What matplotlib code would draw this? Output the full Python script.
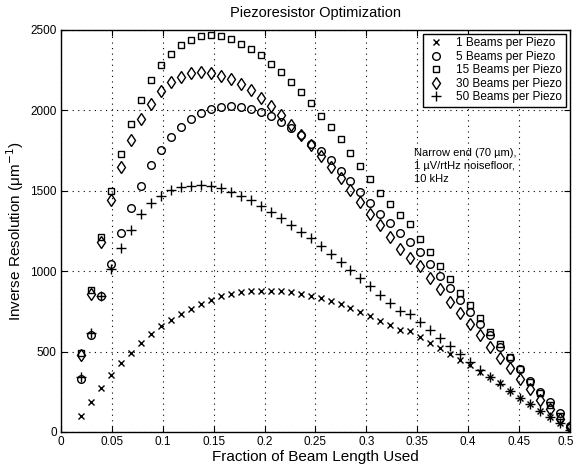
import numpy as np
import matplotlib
matplotlib.use("Agg")
import matplotlib.pyplot as plt
from matplotlib.transforms import ScaledTranslation

plt.rcParams['font.family'] = ['Liberation Sans', 'DejaVu Sans']

# Fraction of beam length used (50 samples from 0.02 to 0.5)
fraction = np.linspace(0.02, 0.5, 50)

beams_1 = [100, 189, 276, 353, 428, 494, 554, 608, 656, 697, 735, 766, 797, 822, 843, 855,
           868, 874, 876, 877, 874, 870, 860, 847, 830, 814, 793, 770, 747, 718, 691, 662,
           631, 629, 590, 556, 521, 486, 448, 415, 375, 341, 303, 257, 214, 174, 133, 92, 54, 15]
beams_5 = [330, 604, 847, 1046, 1240, 1395, 1528, 1658, 1750, 1833, 1897, 1947, 1980, 2007,
           2020, 2024, 2019, 2008, 1988, 1963, 1926, 1889, 1845, 1792, 1745, 1688, 1625, 1561,
           1493, 1424, 1357, 1300, 1240, 1180, 1117, 1044, 967, 895, 818, 745, 672, 600, 530,
           460, 390, 320, 250, 185, 120, 40]
beams_15 = [490, 885, 1212, 1501, 1725, 1912, 2063, 2186, 2281, 2352, 2405, 2439, 2460, 2466,
            2460, 2441, 2414, 2381, 2341, 2290, 2236, 2175, 2113, 2047, 1966, 1896, 1820, 1737,
            1654, 1574, 1486, 1420, 1350, 1290, 1202, 1119, 1034, 953, 867, 787, 706, 623, 544,
            469, 390, 313, 241, 168, 100, 33]
beams_30 = [480, 860, 1180, 1440, 1648, 1814, 1943, 2041, 2119, 2175, 2208, 2233, 2238, 2233,
            2215, 2192, 2161, 2123, 2078, 2026, 1968, 1910, 1846, 1787, 1714, 1648, 1580, 1507,
            1430, 1356, 1285, 1212, 1140, 1080, 1029, 957, 889, 811, 740, 670, 600, 530, 460,
            395, 330, 265, 200, 140, 80, 30]
beams_50 = [340, 615, 847, 1013, 1144, 1255, 1357, 1424, 1470, 1503, 1522, 1532, 1534, 1530,
            1515, 1493, 1467, 1439, 1403, 1367, 1331, 1289, 1245, 1204, 1154, 1106, 1057, 1009,
            957, 905, 853, 801, 753, 733, 683, 635, 583, 535, 486, 438, 386, 341, 299, 257, 214,
            174, 133, 92, 54, 15]

x_tick_labels = ['0', '0.05', '0.1', '0.15', '0.2', '0.25', '0.3', '0.35', '0.4', '0.45', '0.5']

series = [
    (beams_1, 'x', 4.0, "1 Beams per Piezo"),
    (beams_5, 'o', 5.5, "5 Beams per Piezo"),
    (beams_15, 's', 4.5, "15 Beams per Piezo"),
    (beams_30, 'd', 6.0, "30 Beams per Piezo"),
    (beams_50, '+', 6.5, "50 Beams per Piezo"),
]

fig = plt.figure(figsize=(5.75, 4.66), dpi=100)
ax = fig.add_axes([0.106, 0.073, 0.885, 0.863])

for vals, m, ms, lab in series:
    ax.plot(fraction, vals, linestyle='none', marker=m, markersize=ms,
            markerfacecolor='none', markeredgecolor='black', markeredgewidth=1.0,
            color='black', label=lab)

ax.set_xlim(0, 0.5)
ax.set_ylim(0, 2500)
ax.set_xticks(np.arange(0, 0.51, 0.05))
ax.set_xticklabels(x_tick_labels)
ax.set_yticks(np.arange(0, 2501, 500))
ax.tick_params(direction='in', top=True, right=True, labelsize=8.5, length=4, pad=3)
ax.grid(True, color='black', linestyle=(0, (1, 4)), linewidth=0.8)
for s in ax.spines.values():
    s.set_linewidth(1.0)

# keep last x tick label inside the figure
last = ax.get_xticklabels()[-1]
last.set_transform(last.get_transform() + ScaledTranslation(-4 / 100, 0, fig.dpi_scale_trans))

ax.set_title("Piezoresistor Optimization", fontsize=10.5, pad=9)
ax.set_xlabel("Fraction of Beam Length Used", fontsize=11, labelpad=1)
ax.set_ylabel("Inverse Resolution (\u03bcm$^{-1}$)", fontsize=11, labelpad=3)

ax.text(0.347, 1765, "Narrow end (70 \u00b5m),\n1 \u00b5V/rtHz noisefloor,\n10 kHz",
        fontsize=8, va='top', ha='left', linespacing=1.35)

leg = ax.legend(loc='upper right', fontsize=8.5, frameon=True, fancybox=False,
                edgecolor='black', framealpha=1, borderaxespad=0.35,
                handletextpad=0.9, labelspacing=0.12, borderpad=0.3, handlelength=1.6)
leg.get_frame().set_linewidth(1.0)

fig.savefig("out.png", dpi=100)
